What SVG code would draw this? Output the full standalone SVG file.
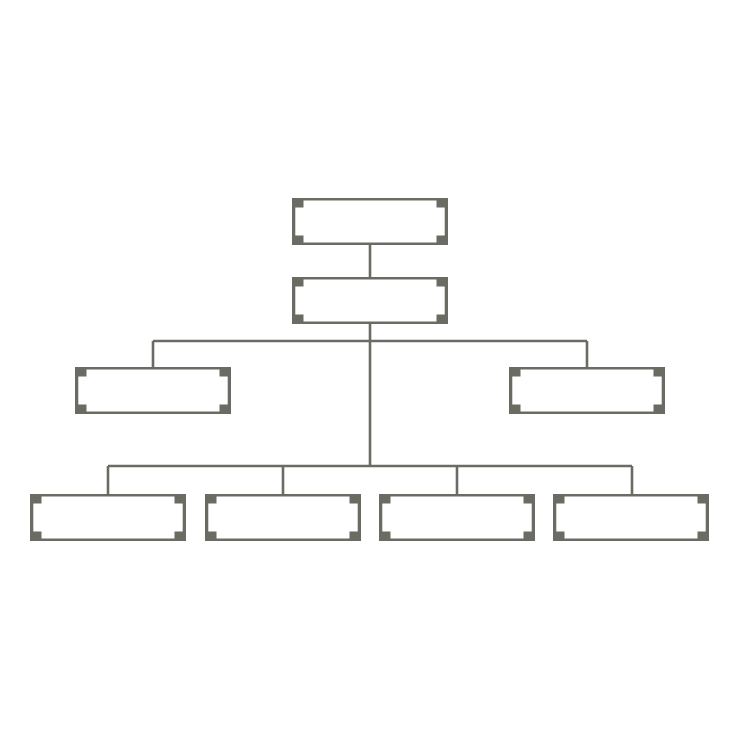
<svg xmlns="http://www.w3.org/2000/svg" xmlns:xlink="http://www.w3.org/1999/xlink" width="740" height="740" viewBox="0 0 740 740">
<defs>
<style>
.frame{fill:#6b6b64}
.inner{fill:#fff}
.corner{fill:#6b6b64}
.conn{fill:none;stroke:#6b6b64;stroke-width:2.6}
</style>
<g id="box">
<rect class="frame" x="0" y="0" width="156" height="47"/>
<rect class="inner" x="3.3" y="2.5" width="149.4" height="42"/>
<rect class="corner" x="0" y="0" width="11.5" height="9.5"/>
<rect class="corner" x="144.5" y="0" width="11.5" height="9.5"/>
<rect class="corner" x="0" y="37.5" width="11.5" height="9.5"/>
<rect class="corner" x="144.5" y="37.5" width="11.5" height="9.5"/>
</g>
</defs>
<rect width="740" height="740" fill="#fff"/>
<g id="connectors">
<path class="conn" d="M370 245V277M370 324V466M153 341H587M153 341V367M587 341V367M108 466H632M108 466V494M283 466V494M457 466V494M632 466V494"/>
</g>
<g id="n1"><use xlink:href="#box" x="292" y="198"/></g>
<g id="n2"><use xlink:href="#box" x="292" y="277"/></g>
<g id="n3"><use xlink:href="#box" x="75" y="367"/></g>
<g id="n4"><use xlink:href="#box" x="509" y="367"/></g>
<g id="n5"><use xlink:href="#box" x="30" y="494"/></g>
<g id="n6"><use xlink:href="#box" x="205" y="494"/></g>
<g id="n7"><use xlink:href="#box" x="379" y="494"/></g>
<g id="n8"><use xlink:href="#box" x="553" y="494"/></g>
</svg>
